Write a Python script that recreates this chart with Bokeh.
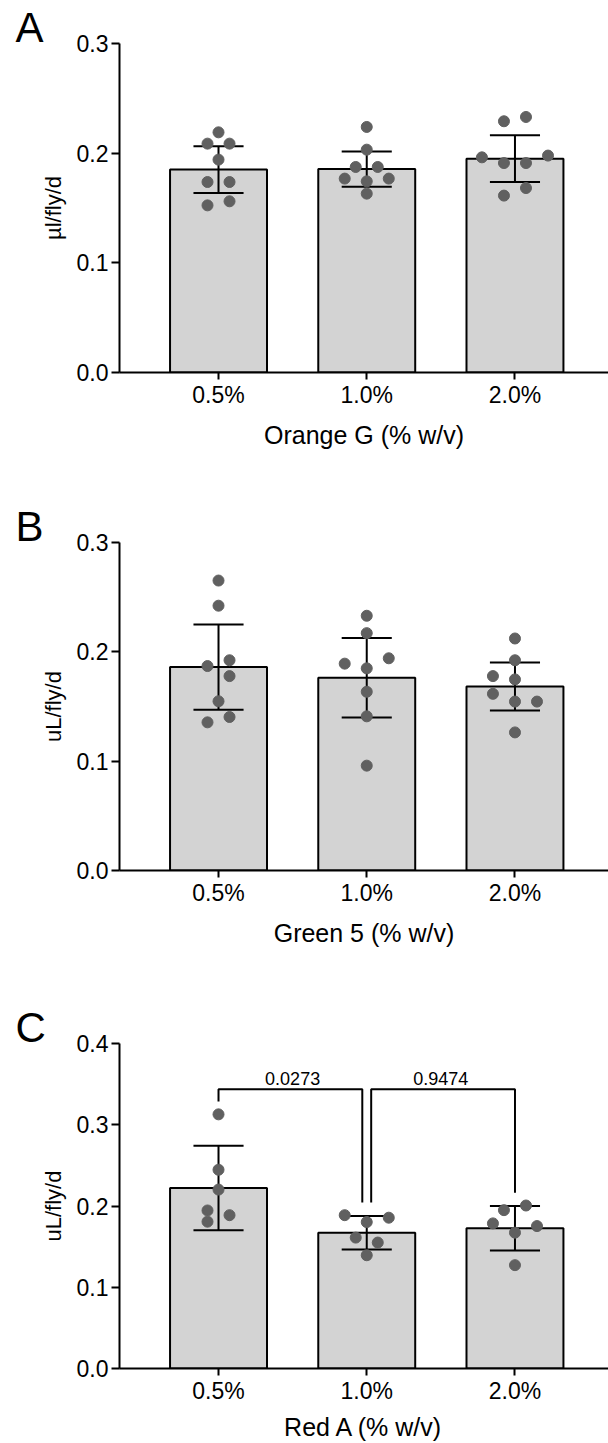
from bokeh.plotting import figure
from bokeh.models import FixedTicker, Range1d
from bokeh.layouts import column
from bokeh.embed import file_html
from bokeh.resources import INLINE
from bokeh.core.properties import value

# ---------------- data ----------------
dose_labels = ["0.5%", "1.0%", "2.0%"]

# Panel A : Orange G
a_means = [0.1850, 0.1855, 0.1950]
a_sd = [0.0213, 0.0161, 0.0213]
a_pts = [
    [0.2190, 0.2087, 0.2087, 0.1941, 0.1737, 0.1737, 0.1524, 0.1561],
    [0.2239, 0.2032, 0.1874, 0.1874, 0.1768, 0.1743, 0.1768, 0.1631],
    [0.2291, 0.2330, 0.1962, 0.1910, 0.1910, 0.1978, 0.1682, 0.1613],
]
a_slots = [
    [0, -1, 1, 0, -1, 1, -1, 1],
    [0, 0, -1, 1, -2, 0, 2, 0],
    [-1, 1, -3, -1, 1, 3, 1, -1],
]

# Panel B : Green 5
b_means = [0.1861, 0.1763, 0.1683]
b_sd = [0.0390, 0.0364, 0.0220]
b_pts = [
    [0.2652, 0.2422, 0.1870, 0.1923, 0.1778, 0.1548, 0.1404, 0.1355],
    [0.2330, 0.2171, 0.1892, 0.1941, 0.1849, 0.1635, 0.1410, 0.0959],
    [0.2122, 0.1923, 0.1778, 0.1748, 0.1616, 0.1545, 0.1545, 0.1263],
]
b_slots = [
    [0, 0, -1, 1, 1, 0, 1, -1],
    [0, 0, -2, 2, 0, 0, 0, 0],
    [0, 0, -2, 0, -2, 0, 2, 0],
]

# Panel C : Red A
c_means = [0.2223, 0.1672, 0.1725]
c_sd = [0.0520, 0.0206, 0.0274]
c_pts = [
    [0.3128, 0.2446, 0.2202, 0.1945, 0.1807, 0.1887],
    [0.1887, 0.1856, 0.1802, 0.1611, 0.1550, 0.1394],
    [0.1949, 0.2006, 0.1786, 0.1753, 0.1672, 0.1272],
]
c_slots = [
    [0, 0, 0, -1, -1, 1],
    [-2, 2, 0, -1, 1, 0],
    [-1, 1, -2, 2, 0, 0],
]
c_comparisons = [(0, 1, "0.0273"), (1, 2, "0.9474")]

yticks_03 = [0.0, 0.1, 0.2, 0.3]
yticks_04 = [0.0, 0.1, 0.2, 0.3, 0.4]
ytick_labels_03 = ["0.0", "0.1", "0.2", "0.3"]
ytick_labels_04 = ["0.0", "0.1", "0.2", "0.3", "0.4"]

# ---------------- style ----------------
FONT = "Liberation Sans"
BAR_FILL = "#d3d3d3"
DOT = "#606060"
BAR_W = 0.654
STEP = 0.0743
CAP = 0.169
X_START, X_END = -0.668, 2.631


def panel(letter, xlabel, ylabel, means, sds, pts, slots, ymax, yticks, ylabels,
          height, top, frame_h, title_standoff=10, comparisons=None):
    bottom = height - top - frame_h
    p = figure(width=608, height=height, output_backend="svg", toolbar_location=None,
               x_range=Range1d(X_START, X_END), y_range=Range1d(0, ymax),
               min_border_left=119, min_border_right=0, min_border_top=top,
               min_border_bottom=bottom, title=letter)
    p.outline_line_color = None
    p.grid.visible = False
    p.background_fill_color = None
    p.border_fill_color = None

    # panel letter
    p.title.align = "left"
    p.title.offset = -104
    p.title.text_font = FONT
    p.title.text_font_size = "42px"
    p.title.text_font_style = "normal"
    p.title.text_color = "black"
    p.title.standoff = -14
    p.title.vertical_align = "bottom"

    xs = list(range(len(means)))
    p.vbar(x=xs, top=means, width=BAR_W, bottom=0, fill_color=BAR_FILL,
           line_color="black", line_width=2)

    # error bars (mean +/- SD)
    lo = [m - s for m, s in zip(means, sds)]
    hi = [m + s for m, s in zip(means, sds)]
    p.segment(x0=xs, y0=lo, x1=xs, y1=hi, line_color="black", line_width=2)
    p.segment(x0=[x - CAP for x in xs], y0=hi, x1=[x + CAP for x in xs], y1=hi,
              line_color="black", line_width=2)
    p.segment(x0=[x - CAP for x in xs], y0=lo, x1=[x + CAP for x in xs], y1=lo,
              line_color="black", line_width=2)

    # individual points
    px, py = [], []
    for i, (vals, sl) in enumerate(zip(pts, slots)):
        for v, s in zip(vals, sl):
            px.append(i + s * STEP)
            py.append(v)
    p.scatter(x=px, y=py, size=11, fill_color=DOT, line_color=DOT)

    if comparisons:
        tops = [max(max(v), h) for v, h in zip(pts, hi)]
        gap = 0.0157
        bar_y = max(tops) + 0.031
        mxs, mys, tx, ty, tt = [], [], [], [], []
        for (a, b, t) in comparisons:
            xa = a + (0.03 if a > 0 else 0)
            xb = b - (0.03 if b < len(means) - 1 else 0)
            mxs.append([xa, xa, xb, xb])
            mys.append([tops[a] + gap, bar_y, bar_y, tops[b] + gap])
            tx.append((a + b) / 2)
            ty.append(bar_y)
            tt.append(t)
        p.multi_line(xs=mxs, ys=mys, line_color="black", line_width=2)
        p.text(x=tx, y=ty, text=tt, y_offset=-11, text_align="center",
               text_baseline="alphabetic", text_font=value(FONT),
               text_font_size="18px", text_color="black")

    # axes
    for ax in (p.xaxis[0], p.yaxis[0]):
        ax.axis_line_width = 2
        ax.axis_line_color = "black"
        ax.major_tick_line_width = 2
        ax.major_tick_line_color = "black"
        ax.major_tick_in = 0
        ax.minor_tick_line_color = None
        ax.major_label_text_font = FONT
        ax.major_label_text_color = "black"
        ax.axis_label_text_font = FONT
        ax.axis_label_text_font_style = "normal"
        ax.axis_label_text_color = "black"

    xa = p.xaxis[0]
    xa.ticker = FixedTicker(ticks=xs)
    xa.major_label_overrides = {i: lab for i, lab in enumerate(dose_labels)}
    xa.major_tick_out = 7
    xa.major_label_standoff = 2
    xa.major_label_text_font_size = "23px"
    xa.axis_label = xlabel
    xa.axis_label_text_font_size = "25px"
    xa.axis_label_standoff = title_standoff

    ya = p.yaxis[0]
    ya.ticker = FixedTicker(ticks=yticks)
    ya.major_label_overrides = {t: l for t, l in zip(yticks, ylabels)}
    ya.major_tick_out = 8
    ya.major_label_standoff = 3
    ya.major_label_text_font_size = "23px"
    ya.axis_label = ylabel
    ya.axis_label_text_font_size = "22px"
    ya.axis_label_standoff = 8
    return p


pa = panel("A", "Orange G (% w/v)", "\u00b5l/fly/d", a_means, a_sd, a_pts, a_slots,
           0.3, yticks_03, ytick_labels_03, 500, 43, 329)
pb = panel("B", "Green 5 (% w/v)", "uL/fly/d", b_means, b_sd, b_pts, b_slots,
           0.3, yticks_03, ytick_labels_03, 500, 42, 328)
pc = panel("C", "Red A (% w/v)", "uL/fly/d", c_means, c_sd, c_pts, c_slots,
           0.4, yticks_04, ytick_labels_04, 443, 43, 327, title_standoff=6,
           comparisons=c_comparisons)

layout = column(pa, pb, pc, spacing=0)
open("out.html", "w").write(file_html(layout, INLINE))
